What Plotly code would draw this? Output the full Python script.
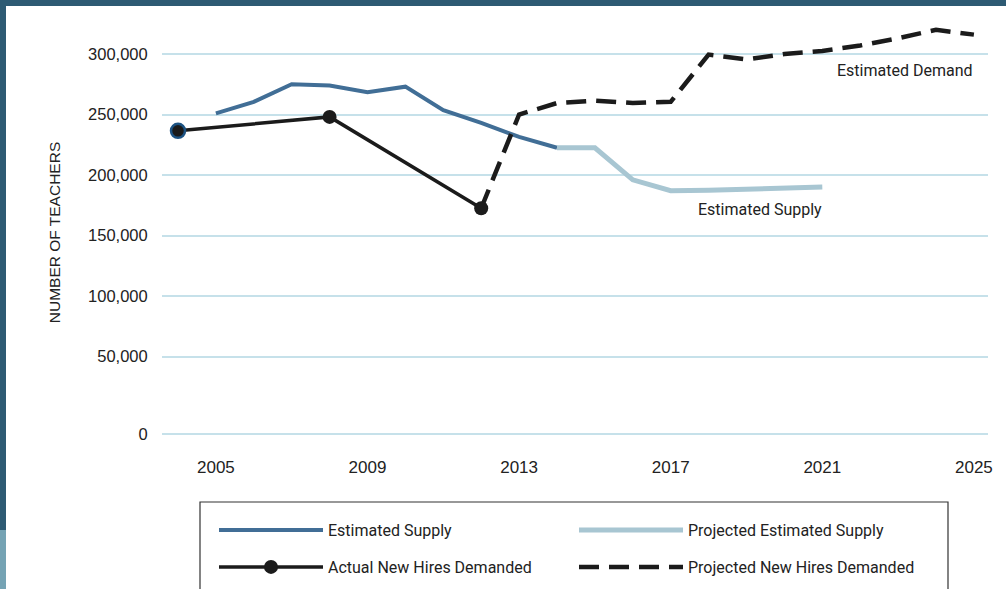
import plotly.graph_objects as go

# ---------------- data ----------------
supply_years = [2005, 2006, 2007, 2008, 2009, 2010, 2011, 2012, 2013, 2014]
supply_vals = [251000, 260500, 275000, 274000, 268500, 273000, 253500, 243000, 231500, 222500]

proj_supply_years = [2014, 2015, 2016, 2017, 2018, 2019, 2020, 2021]
proj_supply_vals = [222500, 222500, 196000, 187000, 187500, 188000, 189000, 190000]

actual_years = [2004, 2008, 2012]
actual_vals = [236500, 248000, 172500]

proj_demand_years = [2012, 2013, 2014, 2015, 2016, 2017, 2018, 2019, 2020, 2021, 2022, 2023, 2024, 2025]
proj_demand_vals = [172500, 250000, 259500, 261500, 259500, 260500, 299500, 295500, 300000, 302500, 307000, 313000, 320000, 316000]

x_tick_vals = [2005, 2009, 2013, 2017, 2021, 2025]
y_tick_labels = ["0", "50,000", "100,000", "150,000", "200,000", "250,000", "300,000"]
# the reference places its "0" line further down than a linear scale would
y_tick_vals = [-14000, 50000, 100000, 150000, 200000, 250000, 300000]

# ---------------- geometry ----------------
W, H = 1006, 589
ML, MR, MT, MB = 162, 18, 20, 144
PW, PH = W - ML - MR, H - MT - MB


def px(xp):
    return (xp - ML) / PW


def py(yp):
    return (H - MB - yp) / PH


C_SUPPLY = "#416e96"
C_PROJ = "#a8c6d2"
C_BLACK = "#1b1b1b"
C_GRID = "#c6e1ea"
C_FRAME = "#2d5a73"
C_FRAME2 = "#75a3b4"
TXT = "#222222"
FONT = "Liberation Sans"
NFONT = "Roboto"

fig = go.Figure()

fig.add_trace(go.Scatter(
    x=supply_years, y=supply_vals, mode="lines", name="Estimated Supply",
    line=dict(color=C_SUPPLY, width=4), legend="legend"))
fig.add_trace(go.Scatter(
    x=proj_supply_years, y=proj_supply_vals, mode="lines", name="Projected Estimated Supply",
    line=dict(color=C_PROJ, width=5), legend="legend"))
fig.add_trace(go.Scatter(
    x=proj_demand_years, y=proj_demand_vals, mode="lines", name="Projected New Hires Demanded",
    line=dict(color=C_BLACK, width=4.5, dash="20px,10px"), legend="legend2", legendrank=2))
fig.add_trace(go.Scatter(
    x=actual_years, y=actual_vals, mode="lines+markers", name="Actual New Hires Demanded",
    line=dict(color=C_BLACK, width=3.5),
    marker=dict(size=14, color=C_BLACK, line=dict(color=C_BLACK, width=0)),
    legend="legend2", legendrank=1))
# blue ring around the first actual point
fig.add_trace(go.Scatter(
    x=actual_years[:1], y=actual_vals[:1], mode="markers", showlegend=False,
    marker=dict(size=14, color=C_BLACK, line=dict(color="#1d5383", width=2.5))))

x0 = 2004 - (178 - ML) / 37.9
x1 = 2004 + (W - MR - 178) / 37.9
y_per_px = 50000 / 60.5
y_top = 300000 + (54 - MT) * y_per_px
y_bot = 300000 - (H - MB - 54) * y_per_px

shapes = [
    # legend box
    dict(type="rect", xref="paper", yref="paper", x0=px(200), x1=px(948), y0=py(620), y1=py(502),
         line=dict(color="#333333", width=1.2), fillcolor="white", layer="below"),
    # frame
    dict(type="rect", xref="paper", yref="paper", x0=px(0), x1=px(W), y0=py(6), y1=py(-2),
         line=dict(width=0), fillcolor=C_FRAME, layer="above"),
    dict(type="rect", xref="paper", yref="paper", x0=px(-2), x1=px(6), y0=py(530), y1=py(0),
         line=dict(width=0), fillcolor=C_FRAME, layer="above"),
    dict(type="rect", xref="paper", yref="paper", x0=px(-2), x1=px(6), y0=py(H + 2), y1=py(530),
         line=dict(width=0), fillcolor=C_FRAME2, layer="above"),
]

annotations = [
    dict(text="Estimated Demand", x=2004 + (905 - 178) / 37.9, y=300000 - (70 - 54) * y_per_px,
         xref="x", yref="y", showarrow=False, font=dict(family=NFONT, size=16, color=TXT)),
    dict(text="Estimated Supply", x=2004 + (760 - 178) / 37.9, y=300000 - (209 - 54) * y_per_px,
         xref="x", yref="y", showarrow=False, font=dict(family=NFONT, size=16, color=TXT)),
]

legend_common = dict(orientation="h", xanchor="left", yanchor="middle",
                     bgcolor="rgba(0,0,0,0)", borderwidth=0, entrywidth=241,
                     entrywidthmode="pixels", itemwidth=104,
                     font=dict(family=NFONT, size=16, color=TXT), itemclick=False)

fig.update_layout(
    width=W, height=H,
    margin=dict(l=ML, r=MR, t=MT, b=MB, autoexpand=False),
    paper_bgcolor="white", plot_bgcolor="white",
    font=dict(family=FONT, color=TXT),
    showlegend=True,
    legend=dict(x=px(214), y=py(530), **legend_common),
    legend2=dict(x=px(214), y=py(567), **legend_common),
    xaxis=dict(range=[x0, x1], tickvals=x_tick_vals, showgrid=False, zeroline=False,
               showline=False, ticks="outside", ticklen=7, tickcolor="rgba(0,0,0,0)",
               tickfont=dict(family=FONT, size=17, color=TXT)),
    yaxis=dict(range=[y_bot, y_top], tickvals=y_tick_vals, ticktext=y_tick_labels,
               showgrid=True, gridcolor=C_GRID, gridwidth=2, zeroline=False, showline=False,
               ticks="outside", ticklen=10, tickcolor="rgba(0,0,0,0)",
               tickfont=dict(family=FONT, size=16.5, color=TXT),
               title=dict(text="NUMBER OF TEACHERS", standoff=23,
                          font=dict(family=FONT, size=15.5, color=TXT))),
    shapes=shapes,
    annotations=annotations,
)

fig.write_html("out.html", config={"displayModeBar": False},
               post_script="document.body.style.margin='0';document.body.style.overflow='hidden';")
